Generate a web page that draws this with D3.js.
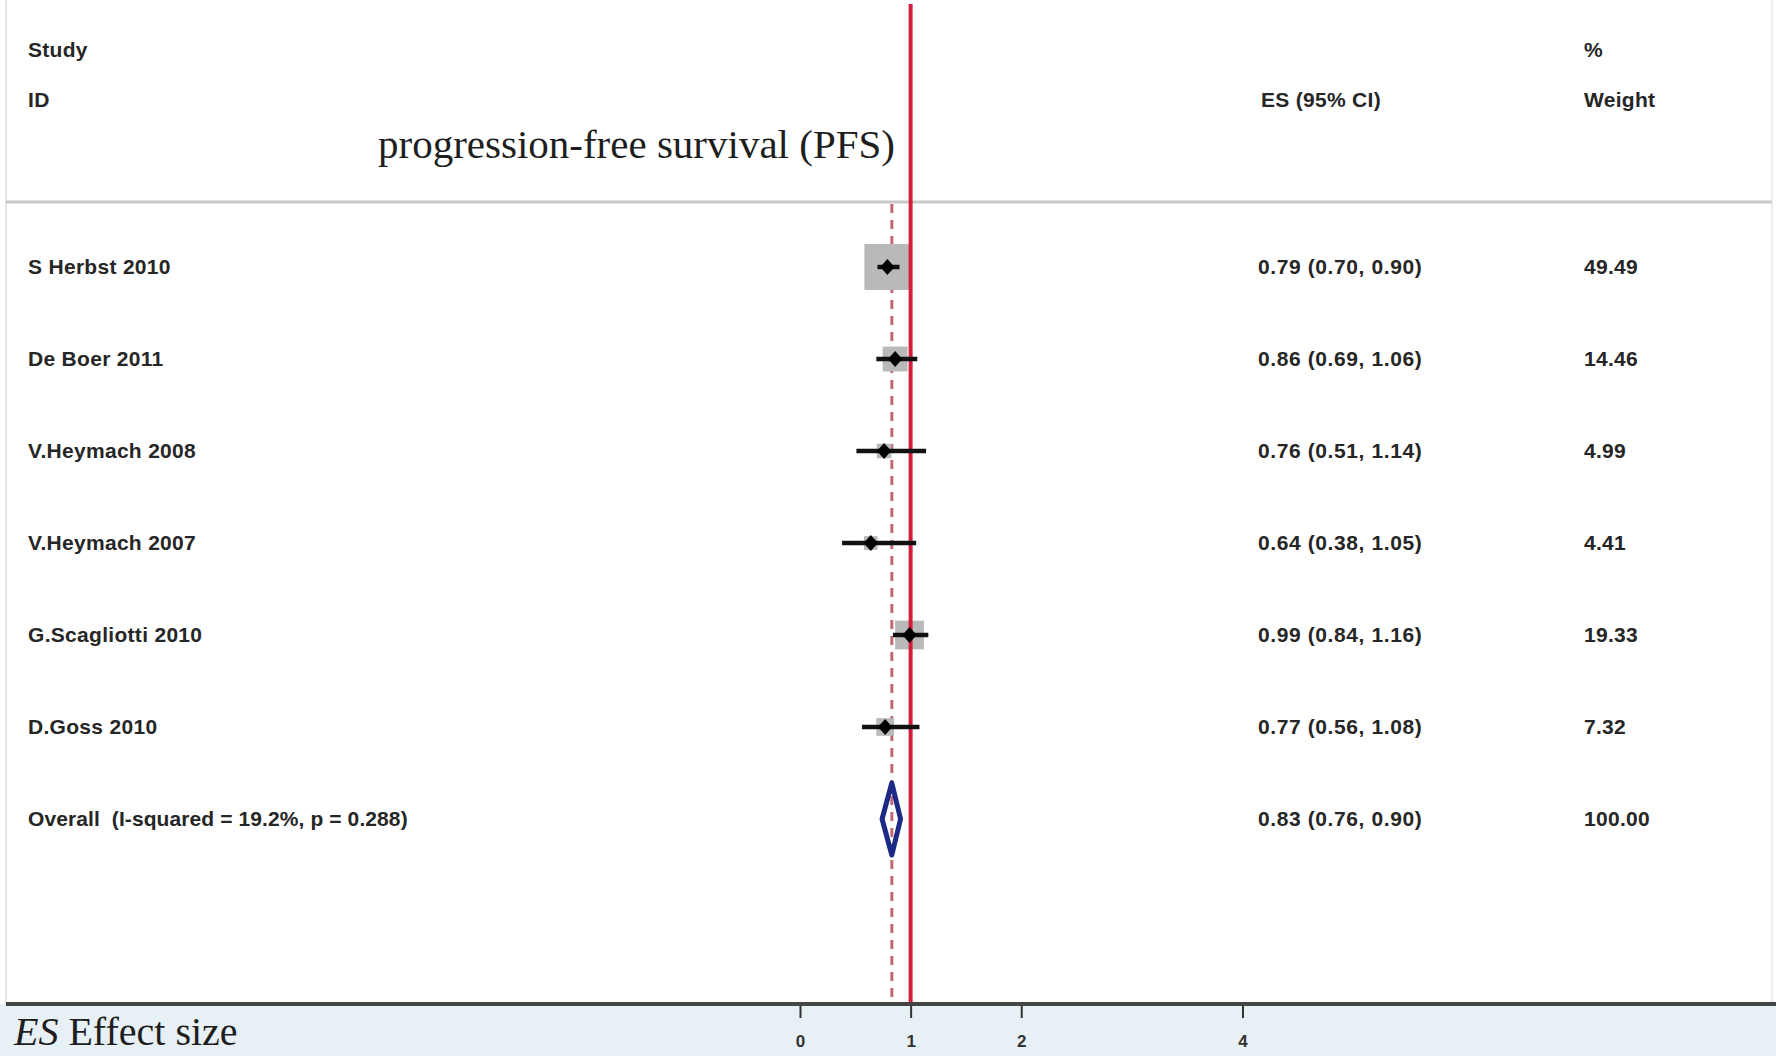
<!DOCTYPE html>
<html>
<head>
<meta charset="utf-8">
<script src="https://cdn.jsdelivr.net/npm/d3@7"></script>
<style>
  html, body { margin: 0; padding: 0; background: #ffffff; }
  svg { display: block; }
  .lbl { font-family: "Liberation Sans", Arial, sans-serif; font-weight: bold; font-size: 21px; fill: #262626; letter-spacing: 0.3px; white-space: pre; }
</style>
</head>
<body>
<svg id="chart" width="1776" height="1056"></svg>
<script>
// ---- data ----
const studies = ["S Herbst 2010", "De Boer 2011", "V.Heymach 2008", "V.Heymach 2007", "G.Scagliotti 2010", "D.Goss 2010"];
const es      = [0.79, 0.86, 0.76, 0.64, 0.99, 0.77];
const ciLow   = [0.70, 0.69, 0.51, 0.38, 0.84, 0.56];
const ciHigh  = [0.90, 1.06, 1.14, 1.05, 1.16, 1.08];
const weights = [49.49, 14.46, 4.99, 4.41, 19.33, 7.32];
const esLabels = ["0.79 (0.70, 0.90)", "0.86 (0.69, 1.06)", "0.76 (0.51, 1.14)", "0.64 (0.38, 1.05)", "0.99 (0.84, 1.16)", "0.77 (0.56, 1.08)"];
const weightLabels = ["49.49", "14.46", "4.99", "4.41", "19.33", "7.32"];
const overallLabel = "Overall  (I-squared = 19.2%, p = 0.288)";
const overallES = [0.83];
const overallLow = [0.76];
const overallHigh = [0.90];
const overallESLabel = "0.83 (0.76, 0.90)";
const overallWeightLabel = "100.00";
const tickValues = [0, 1, 2, 4];
const nullValue = 1;

// ---- layout ----
const W = 1776, H = 1056;
const svg = d3.select("#chart");
const axisY = 1004;

const x = d3.scaleLinear().domain([0, 4]).range([800, 1242.5]);
const y = d3.scaleLinear().domain([0, 6]).range([267, 819]);
const boxSide = d3.scaleSqrt().domain([0, 49.49]).range([0, 46]);

// bottom band
svg.append("rect").attr("x", 0).attr("y", axisY).attr("width", W).attr("height", H - axisY).attr("fill", "#e7f0f4");

// frame lines
svg.append("line").attr("x1", 6).attr("x2", 6).attr("y1", 0).attr("y2", axisY).attr("stroke", "#dfe6ea").attr("stroke-width", 2);
svg.append("line").attr("x1", 1772).attr("x2", 1772).attr("y1", 0).attr("y2", axisY).attr("stroke", "#e8eef2").attr("stroke-width", 2);
svg.append("line").attr("x1", 6).attr("x2", 1772).attr("y1", 202).attr("y2", 202).attr("stroke", "#c9c9c9").attr("stroke-width", 3);

// headers
const hdr = svg.append("g");
hdr.append("text").attr("class", "lbl").attr("x", 28).attr("y", 50).attr("dy", "0.35em").text("Study");
hdr.append("text").attr("class", "lbl").attr("x", 28).attr("y", 100).attr("dy", "0.35em").text("ID");
hdr.append("text").attr("class", "lbl").attr("x", 1261).attr("y", 100).attr("dy", "0.35em").text("ES (95% CI)");
hdr.append("text").attr("class", "lbl").attr("x", 1584).attr("y", 50).attr("dy", "0.35em").text("%");
hdr.append("text").attr("class", "lbl").attr("x", 1584).attr("y", 100).attr("dy", "0.35em").text("Weight");

svg.append("text").attr("x", 378).attr("y", 158)
  .style("font-family", "'Liberation Serif', 'Times New Roman', serif").style("font-size", "41px").attr("fill", "#1e1e1e")
  .text("progression-free survival (PFS)");

// overall dashed line
svg.append("line").attr("x1", x(overallES[0])).attr("x2", x(overallES[0])).attr("y1", 204).attr("y2", axisY - 2)
  .attr("stroke", "#c06a78").attr("stroke-width", 3).attr("stroke-dasharray", "9,7");

// boxes
const rows = studies.map((s, i) => ({ s, es: es[i], lo: ciLow[i], hi: ciHigh[i], w: weights[i], i }));
svg.append("g").selectAll("rect").data(rows).join("rect")
  .attr("x", d => x(d.es) - boxSide(d.w) / 2)
  .attr("y", d => y(d.i) - boxSide(d.w) / 2)
  .attr("width", d => boxSide(d.w))
  .attr("height", d => boxSide(d.w))
  .attr("fill", "#b9b9b9");

// null line (red)
svg.append("line").attr("x1", x(nullValue)).attr("x2", x(nullValue)).attr("y1", 4).attr("y2", axisY)
  .attr("stroke", "#d21d3c").attr("stroke-width", 4);

// CI lines
svg.append("g").selectAll("line").data(rows).join("line")
  .attr("x1", d => x(d.lo)).attr("x2", d => x(d.hi))
  .attr("y1", d => y(d.i)).attr("y2", d => y(d.i))
  .attr("stroke", "#111").attr("stroke-width", 4.5);

// point estimates
svg.append("g").selectAll("path").data(rows).join("path")
  .attr("d", d3.symbol().type(d3.symbolDiamond).size(90))
  .attr("transform", d => `translate(${x(d.es)},${y(d.i)}) scale(1.4,0.9)`)
  .attr("fill", "#000");

// overall diamond
const oy = y(6);
const dh = 36;
svg.append("path")
  .attr("d", `M${x(overallLow[0]) - 2},${oy} L${x(overallES[0])},${oy - dh} L${x(overallHigh[0]) + 1},${oy} L${x(overallES[0])},${oy + dh} Z`)
  .attr("fill", "none").attr("stroke", "#1c2a86").attr("stroke-width", 5).attr("stroke-linejoin", "round");

// row labels
const lab = svg.append("g");
lab.selectAll("text.study").data(rows).join("text").attr("class", "lbl study")
  .attr("x", 28).attr("y", d => y(d.i)).attr("dy", "0.35em").text(d => d.s);
lab.selectAll("text.esl").data(rows).join("text").attr("class", "lbl esl")
  .attr("x", 1258).attr("y", d => y(d.i)).attr("dy", "0.35em").style("letter-spacing", "0.6px").text(d => esLabels[d.i]);
lab.selectAll("text.wl").data(rows).join("text").attr("class", "lbl wl")
  .attr("x", 1584).attr("y", d => y(d.i)).attr("dy", "0.35em").text(d => weightLabels[d.i]);
lab.append("text").attr("class", "lbl").attr("x", 28).attr("y", oy).attr("dy", "0.35em").style("letter-spacing", "0.1px").text(overallLabel);
lab.append("text").attr("class", "lbl").attr("x", 1258).attr("y", oy).attr("dy", "0.35em").style("letter-spacing", "0.6px").text(overallESLabel);
lab.append("text").attr("class", "lbl").attr("x", 1584).attr("y", oy).attr("dy", "0.35em").text(overallWeightLabel);

// axis
const axis = d3.axisBottom(x).tickValues(tickValues).tickSize(14).tickPadding(17).tickFormat(d3.format("d"));
const ag = svg.append("g").attr("transform", `translate(0,${axisY})`).call(axis);
ag.select(".domain").remove();
ag.selectAll(".tick line").attr("stroke", "#333").attr("stroke-width", 2);
ag.selectAll(".tick text").attr("fill", "#333")
  .style("font-family", "'Liberation Sans', Arial, sans-serif").style("font-size", "17px").style("font-weight", "bold");
svg.append("line").attr("x1", 6).attr("x2", W).attr("y1", axisY).attr("y2", axisY).attr("stroke", "#454545").attr("stroke-width", 4);

// footer note
const foot = svg.append("text").attr("x", 14).attr("y", 1045)
  .style("font-family", "'Liberation Serif', 'Times New Roman', serif").style("font-size", "40px").attr("fill", "#1e1e1e");
foot.append("tspan").style("font-style", "italic").text("ES");
foot.append("tspan").text(" Effect size");
</script>
</body>
</html>
